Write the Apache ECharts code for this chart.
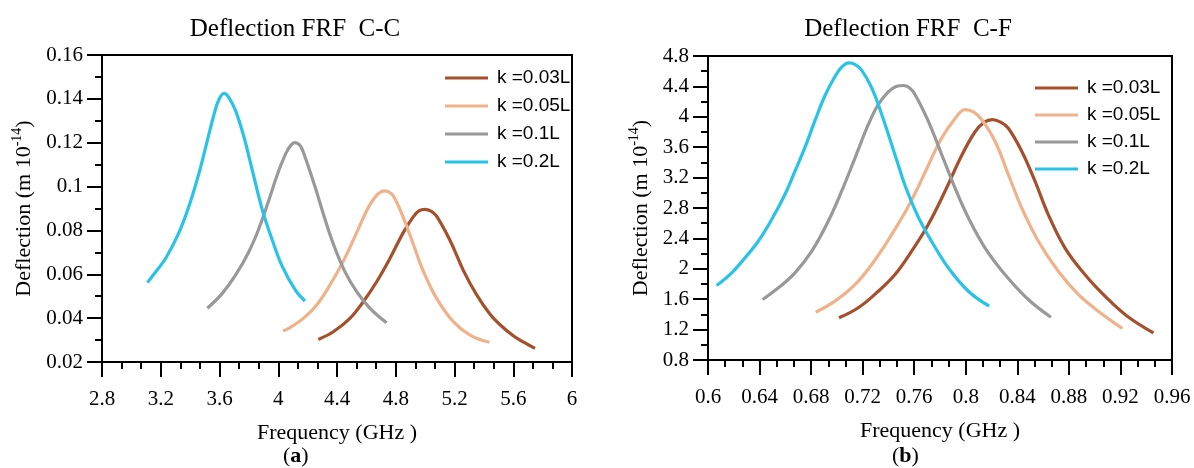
<!DOCTYPE html>
<html>
<head>
<meta charset="utf-8">
<script src="https://cdn.jsdelivr.net/npm/echarts@6/dist/echarts.min.js"></script>
<style>
html,body{margin:0;padding:0;background:#fff;}
#wrap{position:relative;width:1194px;height:468px;}
#cc{position:absolute;left:0;top:0;width:600px;height:468px;}
#cf{position:absolute;left:600px;top:0;width:594px;height:468px;}
</style>
</head>
<body>
<div id="wrap"><div id="cc"></div><div id="cf"></div></div>
<script>
// ---------- Legend / series ----------
const seriesNames = ['k =0.03L', 'k =0.05L', 'k =0.1L', 'k =0.2L'];
const seriesColors = ['#A5502D', '#EFB28A', '#999999', '#29C3E8'];

// ---------- Data: (a) C-C ----------
const ccFreq003 = [4.273, 4.375, 4.488, 4.579, 4.670, 4.761, 4.851, 4.919, 4.960, 4.999, 5.040, 5.078, 5.169, 5.260, 5.351, 5.442, 5.510, 5.600, 5.680, 5.748];
const ccDef003  = [0.0303, 0.0338, 0.0399, 0.0475, 0.0566, 0.0673, 0.0790, 0.0862, 0.0890, 0.0896, 0.0888, 0.0865, 0.0755, 0.0618, 0.0506, 0.0418, 0.0370, 0.0320, 0.0287, 0.0262];
const ccFreq005 = [4.032, 4.080, 4.171, 4.262, 4.352, 4.443, 4.534, 4.613, 4.670, 4.700, 4.722, 4.750, 4.783, 4.851, 4.919, 4.987, 5.078, 5.192, 5.306, 5.437];
const ccDef005  = [0.0341, 0.0357, 0.0399, 0.0460, 0.0551, 0.0660, 0.0790, 0.0905, 0.0960, 0.0976, 0.0980, 0.0976, 0.0958, 0.0860, 0.0738, 0.0615, 0.0490, 0.0384, 0.0323, 0.0290];
const ccFreq01  = [3.517, 3.619, 3.710, 3.800, 3.869, 3.937, 3.994, 4.051, 4.085, 4.114, 4.145, 4.169, 4.250, 4.307, 4.375, 4.454, 4.534, 4.625, 4.738];
const ccDef01   = [0.0445, 0.0513, 0.0597, 0.0703, 0.0810, 0.0940, 0.1055, 0.1150, 0.1188, 0.1200, 0.1190, 0.1160, 0.1000, 0.0875, 0.0738, 0.0612, 0.0521, 0.0445, 0.0379];
const ccFreq02  = [3.109, 3.170, 3.234, 3.324, 3.392, 3.460, 3.517, 3.563, 3.597, 3.631, 3.665, 3.710, 3.767, 3.823, 3.891, 3.960, 4.028, 4.119, 4.182];
const ccDef02   = [0.0562, 0.0615, 0.0673, 0.0790, 0.0910, 0.1060, 0.1210, 0.1330, 0.1398, 0.1425, 0.1405, 0.1345, 0.1225, 0.1075, 0.0895, 0.0755, 0.0635, 0.0525, 0.0478];

// ---------- Data: (b) C-F ----------
const cfFreq003 = [0.7016, 0.7166, 0.7321, 0.7451, 0.7580, 0.7709, 0.7839, 0.7968, 0.8071, 0.8140, 0.8206, 0.8270, 0.8330, 0.8434, 0.8537, 0.8640, 0.8769, 0.8924, 0.9080, 0.9250, 0.9456];
const cfDef003  = [1.355, 1.487, 1.705, 1.925, 2.232, 2.583, 3.021, 3.490, 3.800, 3.925, 3.964, 3.930, 3.850, 3.547, 3.153, 2.714, 2.276, 1.925, 1.640, 1.380, 1.158];
const cfFreq005 = [0.6836, 0.6985, 0.7141, 0.7270, 0.7399, 0.7528, 0.7606, 0.7709, 0.7813, 0.7916, 0.7994, 0.8060, 0.8123, 0.8227, 0.8330, 0.8434, 0.8563, 0.8718, 0.8873, 0.9028, 0.9215];
const cfDef005  = [1.429, 1.574, 1.793, 2.057, 2.380, 2.740, 2.990, 3.360, 3.720, 3.975, 4.095, 4.065, 3.964, 3.679, 3.241, 2.802, 2.363, 1.968, 1.662, 1.442, 1.214];
const cfFreq01  = [0.6424, 0.6546, 0.6675, 0.6805, 0.6933, 0.7037, 0.7141, 0.7244, 0.7321, 0.7399, 0.7455, 0.7515, 0.7560, 0.7606, 0.7709, 0.7813, 0.7916, 0.8020, 0.8149, 0.8304, 0.8485, 0.8661];
const cfDef01   = [1.596, 1.750, 1.947, 2.232, 2.626, 3.021, 3.460, 3.899, 4.162, 4.329, 4.395, 4.412, 4.385, 4.293, 3.942, 3.504, 3.066, 2.671, 2.276, 1.925, 1.596, 1.363];
const cfFreq02  = [0.6067, 0.6184, 0.6287, 0.6390, 0.6494, 0.6597, 0.6675, 0.6753, 0.6830, 0.6908, 0.6985, 0.7040, 0.7094, 0.7140, 0.7192, 0.7270, 0.7334, 0.7399, 0.7464, 0.7528, 0.7632, 0.7735, 0.7864, 0.8020, 0.8182];
const cfDef02   = [1.780, 1.947, 2.145, 2.363, 2.649, 2.978, 3.284, 3.600, 3.950, 4.280, 4.530, 4.660, 4.710, 4.690, 4.615, 4.382, 4.100, 3.770, 3.430, 3.100, 2.680, 2.360, 2.013, 1.705, 1.508];

// ---------- Axis settings ----------
const ccXMin = 2.8, ccXMax = 6, ccXStep = 0.4;
const ccYMin = 0.02, ccYMax = 0.16, ccYStep = 0.02;
const cfXMin = 0.6, cfXMax = 0.96, cfXStep = 0.04;
const cfYMin = 0.8, cfYMax = 4.8, cfYStep = 0.4;

const zip = (xs, ys) => xs.map((x, i) => [x, ys[i]]);
const SERIF = '"Liberation Serif", "Times New Roman", serif';
const SANS = '"Liberation Sans", Arial, sans-serif';
const fmt = v => String(parseFloat(Number(v).toFixed(4)));

function baseAxis() {
  return {
    axisLine: { show: true, onZero: false, lineStyle: { color: '#000', width: 2 } },
    axisTick: { show: true, inside: false, length: 15, lineStyle: { color: '#000', width: 2 } },
    splitLine: { show: false },
    minorSplitLine: { show: false },
  };
}

function buildOption(cfg) {
  return {
    animation: false,
    backgroundColor: '#fff',
    title: {
      text: cfg.title,
      left: cfg.titleX, top: 12, textAlign: 'center',
      textStyle: { fontFamily: SERIF, fontSize: 25, fontWeight: 'normal', color: '#000' }
    },
    legend: {
      orient: 'vertical',
      left: cfg.legendLeft, top: cfg.legendTop,
      itemWidth: 43, itemHeight: 14, itemGap: cfg.legendGap,
      icon: 'path://M0,0 L43,0 L43,3 L0,3 Z',
      data: seriesNames,
      textStyle: { fontFamily: SANS, fontSize: 19, color: '#000', lineHeight: 20, padding: [0, 0, 0, 4] }
    },
    grid: {
      left: cfg.grid.left, top: cfg.grid.top, width: cfg.grid.width, height: cfg.grid.height,
      show: true, borderColor: '#000', borderWidth: 2, backgroundColor: 'transparent'
    },
    xAxis: Object.assign(baseAxis(), {
      type: 'value', min: cfg.xMin, max: cfg.xMax, interval: cfg.xStep,
      minorTick: { show: true, splitNumber: 3, length: 7, lineStyle: { color: '#000', width: 2 } },
      axisLabel: { margin: 27, fontFamily: SERIF, fontSize: 21, color: '#000', showMinLabel: true, showMaxLabel: true, formatter: fmt },
      name: 'Frequency (GHz )', nameLocation: 'middle', nameGap: 60,
      nameTextStyle: { fontFamily: SERIF, fontSize: 22, color: '#000' }
    }),
    yAxis: Object.assign(baseAxis(), {
      type: 'value', min: cfg.yMin, max: cfg.yMax, interval: cfg.yStep,
      minorTick: { show: true, splitNumber: 2, length: 7, lineStyle: { color: '#000', width: 2 } },
      axisLabel: { margin: 19, fontFamily: SERIF, fontSize: 21, color: '#000', formatter: fmt },
      name: '{m|Deflection (m 10}{s|-14}{m|)}', nameLocation: 'middle', nameGap: cfg.yNameGap, nameRotate: 90,
      nameTextStyle: {
        rich: {
          m: { fontFamily: SERIF, fontSize: 22, color: '#000', lineHeight: 28 },
          s: { fontFamily: SERIF, fontSize: 14, color: '#000', lineHeight: 14, verticalAlign: 'top' }
        }
      }
    }),
    graphic: [{
      type: 'text', left: cfg.labelX - 15, top: 445,
      style: {
        text: '{r|(}{b|' + cfg.label + '}{r|)}',
        rich: {
          r: { fontFamily: SERIF, fontSize: 22, fill: '#000' },
          b: { fontFamily: SERIF, fontSize: 22, fontWeight: 'bold', fill: '#000' }
        }
      }
    }],
    series: seriesNames.map((n, i) => ({
      name: n, type: 'line', data: cfg.data[i],
      smooth: 0.4, symbol: 'none', showSymbol: false,
      color: seriesColors[i],
      lineStyle: { color: seriesColors[i], width: 3.2 },
      itemStyle: { color: seriesColors[i] },
      z: 2
    }))
  };
}

const ccChart = echarts.init(document.getElementById('cc'), null, { renderer: 'canvas' });
ccChart.setOption(buildOption({
  title: 'Deflection FRF  C-C', titleX: 290,
  legendLeft: 440, legendTop: 63, legendGap: 8,
  grid: { left: 102, top: 55, width: 470, height: 307 },
  xMin: ccXMin, xMax: ccXMax, xStep: ccXStep,
  yMin: ccYMin, yMax: ccYMax, yStep: ccYStep,
  yNameGap: 64, label: 'a', labelX: 298,
  data: [zip(ccFreq003, ccDef003), zip(ccFreq005, ccDef005), zip(ccFreq01, ccDef01), zip(ccFreq02, ccDef02)]
}));

const cfChart = echarts.init(document.getElementById('cf'), null, { renderer: 'canvas' });
cfChart.setOption(buildOption({
  title: 'Deflection FRF  C-F', titleX: 303,
  legendLeft: 430, legendTop: 73, legendGap: 7,
  grid: { left: 108, top: 56, width: 464, height: 304 },
  xMin: cfXMin, xMax: cfXMax, xStep: cfXStep,
  yMin: cfYMin, yMax: cfYMax, yStep: cfYStep,
  yNameGap: 49, label: 'b', labelX: 307,
  data: [zip(cfFreq003, cfDef003), zip(cfFreq005, cfDef005), zip(cfFreq01, cfDef01), zip(cfFreq02, cfDef02)]
}));
</script>
</body>
</html>
